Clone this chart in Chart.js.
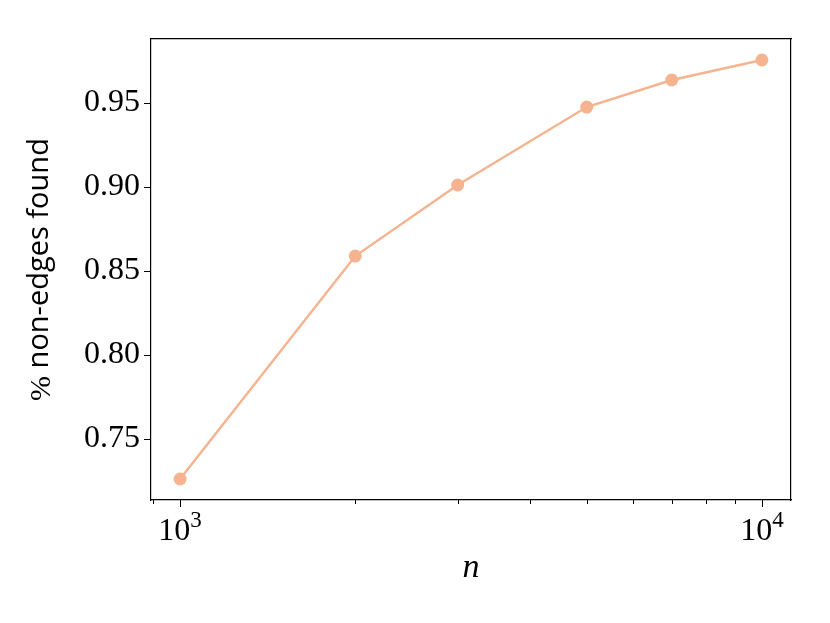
<!DOCTYPE html>
<html>
<head>
<meta charset="utf-8">
<script src="https://cdn.jsdelivr.net/npm/chart.js@4"></script>
<style>
html,body{margin:0;padding:0;background:#fff;}
#wrap{width:830px;height:623px;position:relative;}
</style>
</head>
<body>
<div id="wrap"><canvas id="c" width="830" height="623"></canvas></div>
<script>
const nValues = [1000, 2000, 3000, 5000, 7000, 10000];
const foundValues = [0.7262, 0.8589, 0.9012, 0.9476, 0.9637, 0.9756];
const yTicks = [0.75, 0.80, 0.85, 0.90, 0.95];
const xMajorTicks = [1000, 10000];
const xMinorTicks = [900, 2000, 3000, 4000, 5000, 6000, 7000, 8000, 9000];
const xTickBase = '10';
const xTickExponents = {1000: '3', 10000: '4'};
const xTitle = 'n';
const yTitlePct = '%';
const yTitleText = 'non-edges found';

const COLOR = '#f5b48f';
const SERIF = '"Liberation Serif", "DejaVu Serif", serif';
const SANS = '"Open Sans", "Noto Sans", sans-serif';

const tickMarks = {
  id: 'tickMarks',
  afterDraw(chart) {
    const ctx = chart.ctx;
    const xs = chart.scales.x, ys = chart.scales.y;
    const area = chart.chartArea;
    ctx.save();
    ctx.strokeStyle = '#000';
    ctx.lineWidth = 1;
    const drawX = (v, len) => {
      const px = Math.round(xs.getPixelForValue(v)) + 0.5;
      ctx.beginPath(); ctx.moveTo(px, area.bottom); ctx.lineTo(px, area.bottom + len); ctx.stroke();
    };
    xMajorTicks.forEach(v => drawX(v, 7));
    xMinorTicks.forEach(v => drawX(v, 4));
    yTicks.forEach(v => {
      const py = Math.round(ys.getPixelForValue(v)) + 0.5;
      ctx.beginPath(); ctx.moveTo(area.left - 7, py); ctx.lineTo(area.left, py); ctx.stroke();
    });
    // x tick labels
    ctx.fillStyle = '#000';
    ctx.textBaseline = 'alphabetic';
    xMajorTicks.forEach(v => {
      const px = xs.getPixelForValue(v);
      const sup = xTickExponents[v];
      ctx.font = '32px ' + SERIF;
      const wb = ctx.measureText(xTickBase).width;
      ctx.font = '23px ' + SERIF;
      const ws = ctx.measureText(sup).width;
      const start = px - (wb + ws) / 2;
      ctx.textAlign = 'left';
      ctx.font = '32px ' + SERIF;
      ctx.fillText(xTickBase, start, area.bottom + 40);
      ctx.font = '23px ' + SERIF;
      ctx.fillText(sup, start + wb, area.bottom + 27);
    });
    // x title
    ctx.textAlign = 'center';
    ctx.textBaseline = 'alphabetic';
    ctx.font = 'italic 34px ' + SERIF;
    ctx.fillText(xTitle, (area.left + area.right) / 2, 577);
    // y title
    ctx.translate(40, (area.top + area.bottom) / 2);
    ctx.rotate(-Math.PI / 2);
    ctx.textBaseline = 'middle';
    ctx.font = '30px ' + SERIF;
    const wp = ctx.measureText(yTitlePct + ' ').width;
    ctx.font = '29px ' + SANS;
    const wt = ctx.measureText(yTitleText).width;
    const s = -(wp + wt) / 2;
    ctx.textAlign = 'left';
    ctx.font = '30px ' + SERIF;
    ctx.fillText(yTitlePct, s, 2);
    ctx.font = '29px ' + SANS;
    ctx.fillText(yTitleText, s + wp, 0);
    ctx.restore();
  }
};

new Chart(document.getElementById('c'), {
  type: 'line',
  data: {
    datasets: [{
      data: nValues.map((n, i) => ({x: n, y: foundValues[i]})),
      borderColor: COLOR,
      backgroundColor: COLOR,
      borderWidth: 2.5,
      pointRadius: 6.5,
      pointHoverRadius: 6.5,
      pointBorderWidth: 0,
      tension: 0
    }]
  },
  options: {
    responsive: false,
    animation: false,
    events: [],
    layout: {padding: {left: 0, right: 39, top: 39, bottom: 0}},
    plugins: {legend: {display: false}, tooltip: {enabled: false}},
    scales: {
      x: {
        type: 'logarithmic',
        min: 891.25,
        max: 11220.2,
        grid: {display: false, drawTicks: false},
        border: {display: true, color: '#000', width: 1.2},
        ticks: {display: false},
        afterFit(scale) { scale.height = 123; }
      },
      y: {
        type: 'linear',
        min: 0.7137,
        max: 0.9881,
        grid: {display: false, drawTicks: false},
        border: {display: true, color: '#000', width: 1.2},
        afterBuildTicks(scale) { scale.ticks = yTicks.map(v => ({value: v})); },
        ticks: {
          color: '#000',
          font: {family: SERIF, size: 32},
          padding: 11,
          callback: v => v.toFixed(2)
        },
        afterFit(scale) { scale.width = 151; }
      },
      x2: {
        type: 'logarithmic', position: 'top', min: 891.25, max: 11220.2,
        grid: {display: false, drawTicks: false},
        border: {display: true, color: '#000', width: 1.2},
        ticks: {display: false},
        afterFit(scale) { scale.height = 0; }
      },
      y2: {
        type: 'linear', position: 'right', min: 0.7137, max: 0.9881,
        grid: {display: false, drawTicks: false},
        border: {display: true, color: '#000', width: 1.2},
        ticks: {display: false},
        afterFit(scale) { scale.width = 0; }
      }
    }
  },
  plugins: [tickMarks]
});
</script>
</body>
</html>
